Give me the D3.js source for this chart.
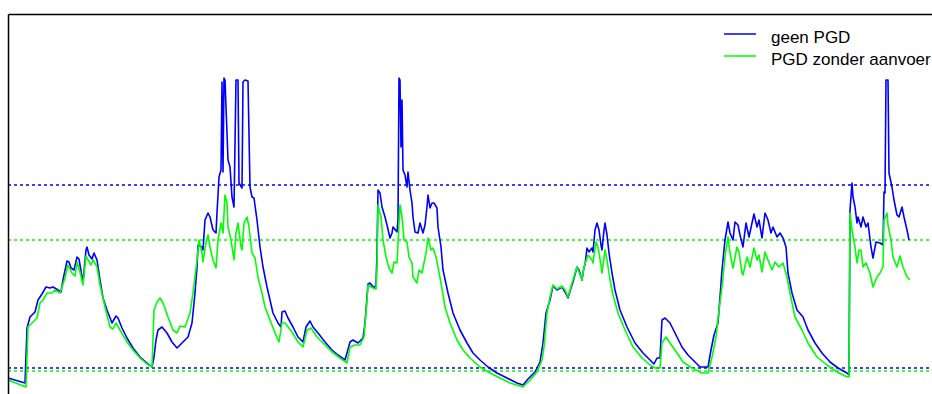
<!DOCTYPE html>
<html>
<meta charset="UTF-8">
<head>
<title>geen PGD / PGD zonder aanvoer</title>
<style>
  body { margin: 0; background: #fff; overflow: hidden; }
  svg { display: block; font-family: "Liberation Sans", Arial, sans-serif; }
  .frame path { stroke: #000; stroke-width: 1.5px; }
  .series { fill: none; stroke-width: 1.6px; stroke-linejoin: round; }
  .ref { stroke-width: 1.5px; stroke-dasharray: 3,3; }
  .legend text { font-size: 17px; fill: #000; }
</style>
</head>
<body>
<div id="chart"></div>
<script src="https://cdn.jsdelivr.net/npm/d3@7"></script>
<script>
// [dag, stand]
const geenPGD = [
  [0,16],[17,11],[19,66],[22,77],[27,82],[30,94],[34,100],[38,107],[42,106],[45,107],[50,104],[53,102],
  [55,114],[59,133],[61,132],[63,126],[66,124],[69,137],[71,135],[74,117],[75,112],[78,144],[79,147],
  [81,139],[84,135],[86,141],[89,134],[92,114],[95,96],[99,84],[104,71],[108,78],[110,76],[114,66],
  [119,56],[125,46],[132,37],[139,31],[144,27],[146,37],[148,54],[150,64],[154,67],[159,61],[164,52],
  [169,46],[174,51],[180,57],[184,71],[187,101],[189,127],[190,149],[194,147],[195,144],[197,174],
  [200,181],[202,177],[205,164],[208,161],[209,181],[211,217],[213,224],[214,312],[215,222],[216,316],
  [217,314],[220,234],[222,227],[224,197],[226,187],[228,314],[230,314],[231,211],[234,206],[235,312],
  [237,314],[240,313],[242,207],[244,197],[246,196],[249,174],[252,147],[255,127],[259,107],[262,94],
  [265,81],[270,71],[273,67],[274,82],[277,83],[280,76],[285,67],[290,57],[295,52],[298,67],[302,73],
  [305,67],[310,61],[317,52],[324,44],[330,39],[337,34],[339,41],[342,52],[345,54],[350,51],[355,56],
  [357,71],[360,110],[362,111],[366,106],[368,109],[369,141],[370,204],[372,201],[374,187],[377,177],
  [379,169],[382,156],[384,161],[385,167],[389,162],[390,174],[391,316],[392,314],[393,247],[394,294],
  [395,224],[397,219],[399,207],[400,222],[402,204],[404,191],[405,177],[407,162],[410,161],[412,171],
  [415,161],[417,169],[419,187],[420,199],[422,186],[424,191],[426,191],[429,186],[430,167],[433,147],
  [435,124],[440,101],[445,81],[452,64],[459,51],[465,41],[472,34],[480,27],[489,21],[499,16],[509,11],
  [515,9],[520,15],[527,22],[532,32],[535,51],[538,81],[542,94],[545,108],[549,104],[554,107],[557,102],
  [560,96],[563,106],[565,112],[569,127],[571,124],[574,114],[576,127],[577,129],[579,146],[581,142],
  [584,146],[585,142],[587,164],[589,171],[591,164],[593,149],[594,144],[596,164],[597,171],[599,159],
  [601,141],[604,121],[607,104],[612,84],[619,67],[627,51],[635,41],[644,32],[646,30],[649,36],[652,36],
  [654,74],[657,76],[662,71],[667,61],[674,47],[680,39],[687,32],[692,27],[700,27],[703,44],[706,59],
  [710,71],[712,97],[714,124],[717,154],[720,172],[722,161],[725,154],[727,172],[730,169],[732,159],
  [735,147],[738,171],[741,157],[744,171],[746,180],[749,167],[751,174],[754,156],[757,181],[760,174],
  [763,161],[765,167],[769,157],[772,161],[775,156],[778,147],[780,121],[784,101],[789,84],[795,77],
  [800,64],[807,51],[814,41],[822,32],[830,26],[839,21],[841,19],[842,184],[844,211],[845,197],[847,187],
  [849,171],[850,177],[853,167],[855,177],[858,167],[860,171],[863,147],[865,136],[868,152],[872,151],
  [875,149],[876,202],[877,201],[878,314],[880,314],[881,221],[884,207],[886,194],[889,179],[891,177],
  [894,187],[896,177],[899,164],[901,154]
];

const pgdZonderAanvoer = [
  [0,14],[18,7],[20,67],[24,71],[29,76],[32,91],[35,94],[39,101],[44,101],[47,104],[52,101],[57,116],
  [60,129],[64,121],[67,118],[69,132],[72,122],[75,109],[78,138],[80,134],[83,129],[85,134],[89,127],
  [92,109],[97,87],[102,67],[105,65],[108,71],[112,64],[119,52],[125,44],[132,36],[139,30],[144,27],
  [146,84],[149,92],[152,96],[155,91],[160,77],[165,64],[169,61],[172,68],[177,67],[182,81],[185,101],
  [189,134],[191,154],[194,141],[195,132],[198,152],[200,159],[202,147],[205,134],[208,126],[210,154],
  [213,171],[215,161],[217,199],[219,191],[220,167],[223,154],[226,134],[228,161],[230,171],[233,147],
  [234,144],[236,171],[239,177],[241,167],[244,141],[247,136],[250,117],[254,101],[257,87],[262,74],
  [267,61],[271,52],[274,71],[277,71],[284,62],[290,52],[295,47],[299,64],[303,66],[309,57],[317,49],
  [324,42],[332,36],[339,31],[342,47],[347,49],[352,49],[356,57],[359,94],[360,109],[365,106],[368,105],
  [369,127],[370,189],[373,177],[375,154],[378,137],[381,126],[384,121],[386,132],[389,131],[390,151],
  [392,189],[394,177],[396,154],[399,152],[401,137],[404,131],[405,117],[409,111],[411,124],[414,121],
  [416,131],[418,141],[420,156],[423,144],[425,146],[428,137],[430,127],[433,111],[437,87],[442,71],
  [449,54],[455,44],[462,36],[472,27],[482,21],[492,16],[502,11],[512,8],[515,7],[522,14],[529,22],
  [534,34],[536,47],[539,81],[542,97],[545,109],[549,105],[554,108],[557,104],[560,97],[564,111],
  [569,127],[571,122],[574,114],[576,127],[579,136],[580,139],[584,134],[585,131],[588,152],[590,147],
  [593,129],[594,121],[597,144],[599,134],[602,114],[605,99],[610,81],[617,64],[625,47],[634,36],
  [642,29],[647,26],[652,26],[654,51],[658,57],[662,51],[669,41],[675,32],[684,26],[694,21],[700,21],
  [704,37],[708,57],[711,84],[714,107],[717,137],[720,157],[722,141],[725,126],[729,147],[731,142],
  [734,121],[735,119],[739,137],[742,127],[746,146],[749,134],[751,139],[754,122],[757,142],[760,134],
  [764,124],[767,132],[771,127],[775,131],[779,117],[782,101],[787,77],[794,64],[800,51],[809,37],
  [819,29],[829,22],[837,18],[841,17],[842,181],[844,164],[847,147],[849,131],[851,144],[853,144],
  [855,127],[858,131],[862,121],[865,107],[869,117],[872,121],[875,127],[876,174],[879,181],[880,169],
  [883,154],[885,137],[889,127],[892,138],[895,127],[899,117],[902,114]
];

// horizontal reference levels
const refBlue = [209, 26];
const refGreen = [154, 23];

const seriesNames = ["geen PGD", "PGD zonder aanvoer"];
const seriesColors = ["#0000ff", "#00ff00"];

const width = 932, height = 394;
const margin = {top: 14, left: 8};

let svg = d3.select("#chart").append("svg")
    .attr("width", width)
    .attr("height", height);

let x = d3.scaleLinear().domain([0, 924]).range([margin.left, width]);
let y = d3.scaleLinear().domain([0, 380]).range([height, margin.top]);

// reference lines
function refLines(vals, color) {
    svg.append("g").selectAll("line")
        .data(vals)
        .enter().append("line")
        .attr("class", "ref")
        .attr("x1", x(0)).attr("x2", width)
        .attr("y1", d => y(d)).attr("y2", d => y(d))
        .attr("stroke", color);
}
refLines(refBlue, seriesColors[0]);
refLines(refGreen, seriesColors[1]);

let line = d3.line()
    .x(d => x(d[0]))
    .y(d => y(d[1]));

[geenPGD, pgdZonderAanvoer].forEach((s, i) => {
    svg.append("path")
        .datum(s)
        .attr("class", "series")
        .attr("stroke", seriesColors[i])
        .attr("d", line);
});

// frame: top and left
svg.append("g")
    .attr("class", "frame")
    .attr("transform", "translate(0," + margin.top + ")")
    .call(d3.axisTop(x).ticks(0).tickSizeOuter(0));
svg.append("g")
    .attr("class", "frame")
    .attr("transform", "translate(" + margin.left + ",0)")
    .call(d3.axisLeft(y).ticks(0).tickSizeOuter(0));

// legend
let legend = svg.append("g").attr("class", "legend");
seriesNames.forEach((name, i) => {
    let ly = 34 + i * 22;
    legend.append("line")
        .attr("x1", 724).attr("x2", 756)
        .attr("y1", ly).attr("y2", ly)
        .attr("stroke", seriesColors[i])
        .attr("stroke-width", 1.5);
    legend.append("text")
        .attr("x", 771)
        .attr("y", ly + 9)
        .text(name);
});
</script>
</body>
</html>
